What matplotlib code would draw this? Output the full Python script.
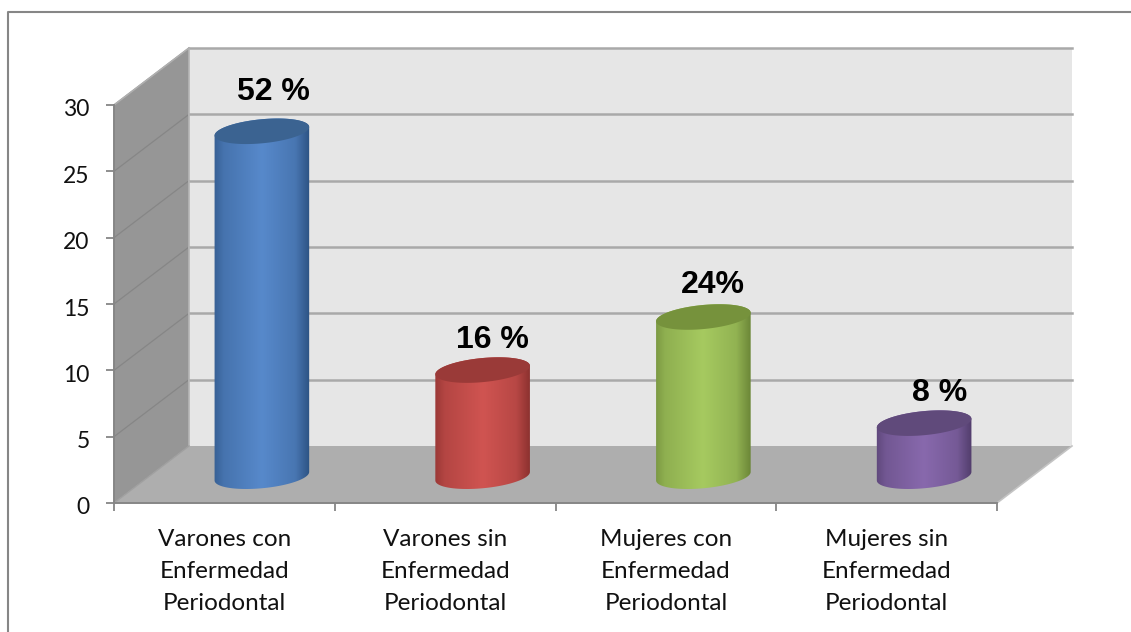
"""3D-looking cylinder column chart, Periodontal disease by sex."""

import matplotlib
matplotlib.use("Agg")
import matplotlib.pyplot as plt
import numpy as np
from matplotlib.colors import LinearSegmentedColormap, to_rgb
from matplotlib.lines import Line2D
from matplotlib.patches import Polygon
from matplotlib.transforms import ScaledTranslation

categories = [
    "Varones con\nEnfermedad\nPeriodontal",
    "Varones sin\nEnfermedad\nPeriodontal",
    "Mujeres con\nEnfermedad\nPeriodontal",
    "Mujeres sin\nEnfermedad\nPeriodontal",
]
values = [26, 8, 12, 4]
value_labels = ["52 %", "16 %", "24%", "8 %"]
y_ticks = [0, 5, 10, 15, 20, 25, 30]

# (edge, centre, top) shades per bar
BAR_COLORS = [
    ("#2d5383", "#5789cb", "#3b6391"),
    ("#8a302e", "#d05451", "#9a3a38"),
    ("#6c8738", "#a6ca60", "#76923c"),
    ("#523d6c", "#8869ad", "#604a7b"),
]
# label offset from the top of the bar, pixels
LABEL_OFFSETS = [(12, 39), (10, 30), (9, 32), (15, 30)]

W, H = 1131, 632
LEFT, RIGHT, TOP, BOTTOM = 114, 997, 105, 503
SX = (RIGHT - LEFT) / 4
SY = (BOTTOM - TOP) / 30
DX = 75 / SX  # depth of the box
DY = 57 / SY
A, B, TILT = 47.5, 12, np.radians(5.5)  # cylinder ellipse, pixels
AXIS_GRAY = "#868686"


def ellipse(cx, cy, t):
    px = A * np.cos(t) * np.cos(TILT) - B * np.sin(t) * np.sin(TILT)
    py = A * np.cos(t) * np.sin(TILT) + B * np.sin(t) * np.cos(TILT)
    return cx + px / SX, cy + py / SY


def blend(edge, centre, f):
    return tuple(np.array(to_rgb(edge)) * (1 - f) + np.array(to_rgb(centre)) * f)


def draw_box(ax):
    ax.add_patch(Polygon([(0, 0), (DX, DY), (DX, 30 + DY), (0, 30)],
                         fc="#969696", ec="none", clip_on=False, zorder=1))
    ax.add_patch(Polygon([(0, 0), (4, 0), (4 + DX, DY), (DX, DY)],
                         fc="#aeaeae", ec="none", clip_on=False, zorder=1))
    ax.add_patch(Polygon([(DX, DY), (4 + DX, DY), (4 + DX, 30 + DY), (DX, 30 + DY)],
                         fc="#e6e6e6", ec="none", clip_on=False, zorder=1))
    for v in y_ticks[1:]:
        ax.plot([0, DX], [v, v + DY], color="#868686", lw=0.9, clip_on=False, zorder=2)
        ax.plot([DX, 4 + DX], [v + DY, v + DY], color="#a9a9a9", lw=1.8,
                clip_on=False, zorder=2)
    ax.plot([DX, DX], [DY, 30 + DY], color="#b5b5b5", lw=1.2, clip_on=False, zorder=2)
    ax.plot([0, DX], [30, 30 + DY], color="#b0b0b0", lw=1.2, clip_on=False, zorder=2)
    ax.plot([0, DX], [0, DY], color="#a0a0a0", lw=1.0, clip_on=False, zorder=2)
    ax.plot([4, 4 + DX], [0, DY], color="#c4c4c4", lw=1.2, clip_on=False, zorder=2)


def draw_cylinder(ax, x, value, colors):
    edge, centre, top = colors
    base = DY * 0.47
    t0 = np.arctan2(-B * np.sin(TILT), A * np.cos(TILT))
    lower = np.linspace(t0 - np.pi, t0, 60)
    upper = np.linspace(t0, t0 + np.pi, 60)
    bx, by = ellipse(x, base, lower)
    tx, ty = ellipse(x, base + value, upper)
    outline = Polygon(np.column_stack([np.r_[bx, tx], np.r_[by, ty]]),
                      fc="none", ec="none", zorder=3)
    ax.add_patch(outline)

    cmap = LinearSegmentedColormap.from_list("bar", [
        (0.0, blend(edge, centre, 0.25)),
        (0.1, blend(edge, centre, 0.6)),
        (0.5, to_rgb(centre)),
        (0.85, blend(edge, centre, 0.65)),
        (1.0, to_rgb(edge)),
    ])
    shade = np.linspace(0, 1, 200)[None, :]
    im = ax.imshow(shade, cmap=cmap, aspect="auto", zorder=3, interpolation="bilinear",
                   extent=[x - A / SX * 1.01, x + A / SX * 1.01, 0, base + value + 2])
    im.set_clip_path(outline)

    t = np.linspace(0, 2 * np.pi, 120)
    ex, ey = ellipse(x, base + value, t)
    ax.add_patch(Polygon(np.column_stack([ex, ey]), fc=top, ec="none", zorder=4))


fig = plt.figure(figsize=(W / 100, H / 100), dpi=100, facecolor="white")
ax = fig.add_axes([LEFT / W, 1 - BOTTOM / H, (RIGHT - LEFT) / W, (BOTTOM - TOP) / H])
ax.patch.set_visible(False)

draw_box(ax)
positions = np.arange(len(categories)) + 0.5
for x, value, colors, label, (ox, oy) in zip(
    positions + DX / 2, values, BAR_COLORS, value_labels, LABEL_OFFSETS
):
    draw_cylinder(ax, x, value, colors)
    ax.annotate(label, (x, DY * 0.47 + value), xytext=(ox * 0.72, oy * 0.72),
                textcoords="offset points", ha="center", va="center", zorder=5,
                fontsize=23, fontweight="bold", family="Liberation Sans", color="black")

ax.set_xlim(0, 4)
ax.set_ylim(0, 30)
ax.set_yticks(y_ticks)
ax.set_xticks(range(5))
ax.set_xticklabels([])
ax.set_xticks(positions, labels=categories, minor=True)
ax.tick_params(axis="both", which="major", length=5.5, width=1.3, color=AXIS_GRAY)
ax.tick_params(axis="y", which="major", labelsize=16.5, pad=12)
ax.tick_params(axis="x", which="minor", length=0, labelsize=17.5, pad=19)
shift = ScaledTranslation(0, -3 / 100, fig.dpi_scale_trans)
for lab in ax.get_yticklabels():
    lab.set_family("Lato")
    lab.set_color("#111111")
    lab.set_transform(lab.get_transform() + shift)
for lab in ax.get_xticklabels(minor=True):
    lab.set_family("Lato")
    lab.set_color("#111111")
    lab.set_linespacing(1.63)
for side in ("top", "right"):
    ax.spines[side].set_visible(False)
for side in ("left", "bottom"):
    ax.spines[side].set_color(AXIS_GRAY)
    ax.spines[side].set_linewidth(1.4)
    ax.spines[side].set_zorder(2.5)

# chart frame, runs off the bottom and right of the picture
fig.add_artist(Line2D([8 / W, 8 / W, 1], [0, 1 - 11.5 / H, 1 - 11.5 / H],
                      color=AXIS_GRAY, lw=1.5))

fig.savefig("out.png", dpi=100)
